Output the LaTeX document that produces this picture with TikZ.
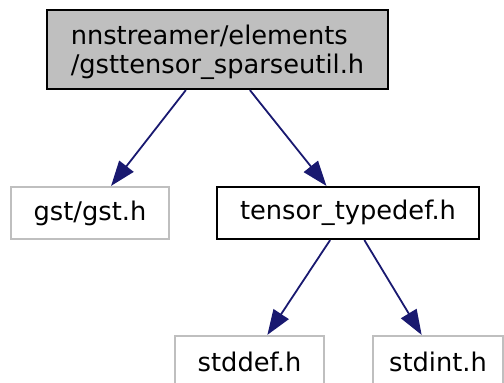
\documentclass[tikz,border=0pt]{standalone}
\usepackage{fontspec}
\setmainfont{DejaVu Sans}
\usetikzlibrary{arrows.meta,positioning}
\definecolor{edgeblue}{HTML}{191970}
\definecolor{boxgray}{HTML}{BFBFBF}

\begin{document}
\begin{tikzpicture}[x=1pt,y=-1pt,>={Stealth[length=25pt,width=18pt,inset=0pt]},
    every node/.style={font=\fontsize{25.7}{29.5}\selectfont,inner sep=0pt},
    filebox/.style={draw=black,line width=2.2pt,minimum height=52pt},
    sysbox/.style={draw=boxgray,line width=2.2pt,minimum height=52pt},
    dep/.style={->,edgeblue,line width=1.8pt}]
        \useasboundingbox (0,0) rectangle (504,383);
        \node[filebox,fill=boxgray,minimum width=341pt,minimum height=79pt] (sparse) at (217.5,49.5) {};
        \node[align=left,yshift=-3pt] (sparsetext) at (sparse) {nnstreamer/elements\\/gsttensor\_sparseutil.h};
        \node[sysbox,minimum width=158pt] (gst) at (90,213) {gst/gst.h};
        \node[filebox,minimum width=262pt] (typedef) at (348,213) {tensor\_typedef.h};
        \node[sysbox,minimum width=149pt] (stddef) at (249.5,362) {stddef.h};
        \node[sysbox,minimum width=130pt] (stdint) at (438,362) {stdint.h};
        \draw[dep] (sparse) -- (gst);
        \draw[dep] (sparse) -- (typedef);
        \draw[dep] (typedef) -- (stddef);
        \draw[dep] (typedef) -- (stdint);
      \end{tikzpicture}
\end{document}
